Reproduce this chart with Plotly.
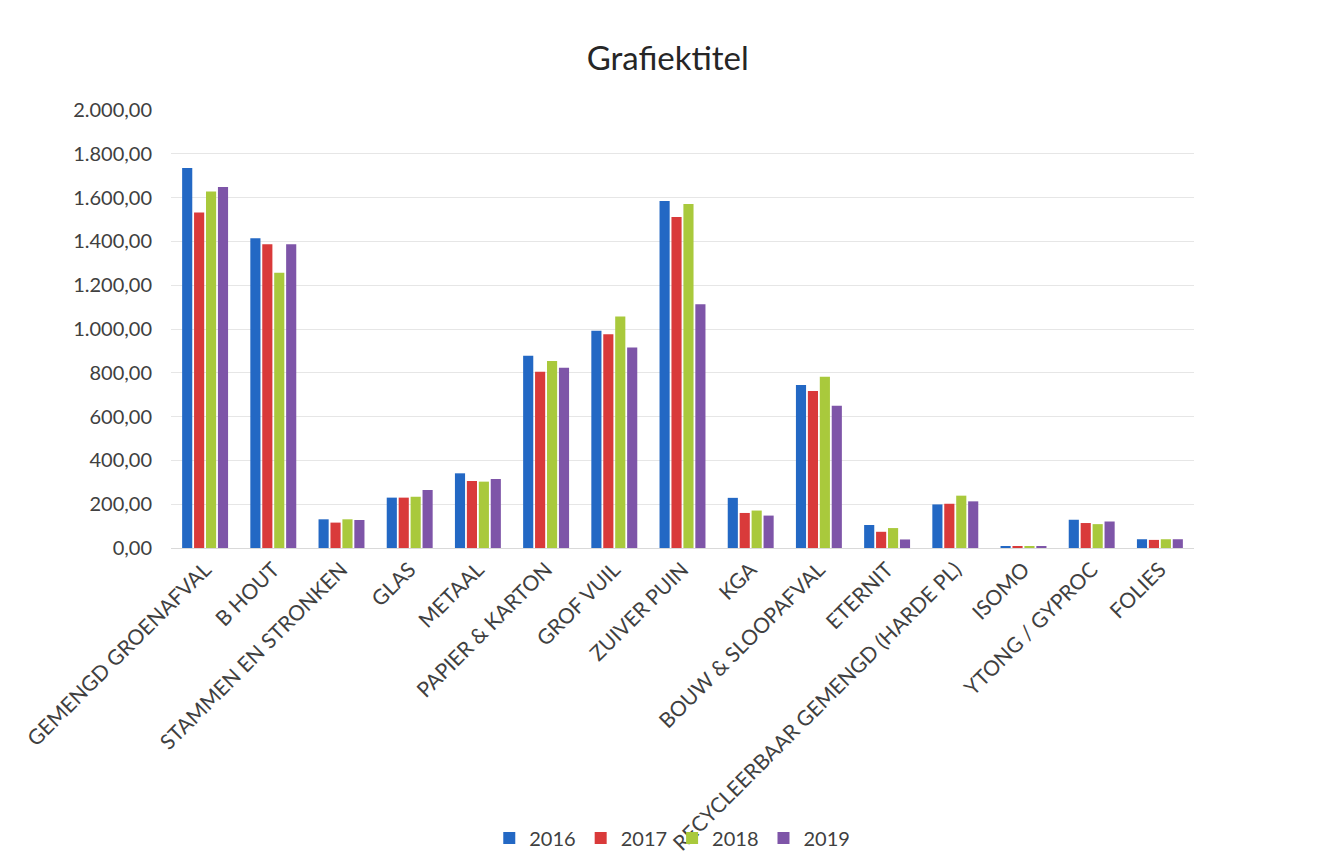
import plotly.graph_objects as go

categories = ["GEMENGD GROENAFVAL", "B HOUT", "STAMMEN EN STRONKEN", "GLAS", "METAAL",
              "PAPIER & KARTON", "GROF VUIL", "ZUIVER PUIN", "KGA", "BOUW & SLOOPAFVAL",
              "ETERNIT", "RECYCLEERBAAR GEMENGD (HARDE PL)", "ISOMO", "YTONG / GYPROC", "FOLIES"]

v2016 = [1735, 1414, 131, 230, 341, 878, 992, 1584, 229, 744, 105, 199, 5, 129, 40]
v2017 = [1532, 1387, 116, 230, 306, 805, 976, 1511, 160, 717, 74, 202, 5, 114, 37]
v2018 = [1628, 1257, 131, 234, 303, 854, 1057, 1571, 171, 782, 91, 239, 5, 109, 40]
v2019 = [1648, 1387, 128, 265, 315, 823, 915, 1113, 148, 650, 39, 213, 5, 121, 40]

series_names = ["2016", "2017", "2018", "2019"]
series_values = [v2016, v2017, v2018, v2019]
colors = ["#2368C4", "#D93A3A", "#A9C93C", "#7E55A8"]

fig = go.Figure()
for name, vals, col in zip(series_names, series_values, colors):
    fig.add_trace(go.Bar(name=name, x=categories, y=vals, marker=dict(color=col, line=dict(width=0))))

font_family = "Lato, 'Open Sans', sans-serif"
fig.update_layout(
    width=1317, height=866,
    paper_bgcolor="white", plot_bgcolor="white",
    separators=",.",
    barmode="group", bargap=0.3, bargroupgap=0.15,
    margin=dict(l=171, r=123, t=110, b=318, autoexpand=False),
    title=dict(text="Grafiektitel", x=0.507, xanchor="center", y=0.933, yanchor="middle",
               font=dict(family=font_family, size=33, color="#262626")),
    font=dict(family=font_family, color="#404040"),
    legend=dict(orientation="h", x=0.49, xanchor="center", y=-0.662, yanchor="middle",
                font=dict(family=font_family, size=20, color="#404040"),
                bgcolor="rgba(0,0,0,0)", itemwidth=30, traceorder="normal"),
    showlegend=True,
)
fig.update_yaxes(range=[0, 2000], dtick=200, tickformat=",.2f",
                 showgrid=True, gridcolor="#E6E6E6", gridwidth=1,
                 zeroline=True, zerolinecolor="#D9D9D9", zerolinewidth=1,
                 showline=False, ticks="", ticklen=0, ticklabelstandoff=18,
                 tickfont=dict(family=font_family, size=20, color="#404040"),
                 automargin=False)
fig.update_xaxes(tickangle=-45, showgrid=False, showline=True, linecolor="#D9D9D9",
                 ticks="", tickfont=dict(family=font_family, size=21, color="#404040"),
                 automargin=False)

fig.write_html("out.html")
